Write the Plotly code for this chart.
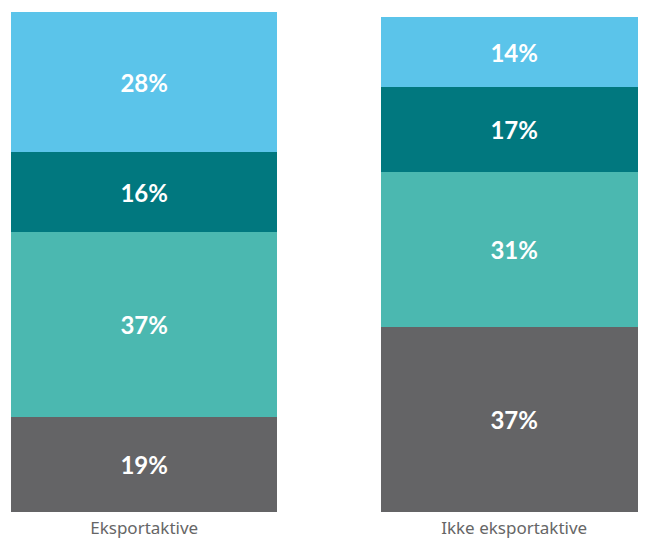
import plotly.graph_objects as go

# Kategorier og andeler (%), fra bunn til topp i stabelen
groups = ["Eksportaktive", "Ikke eksportaktive"]
seg_gray = [19, 37]
seg_teal = [37, 31]
seg_dark = [16, 17]
seg_blue = [28, 14]

COLORS = {
    "gray": "#646466",
    "teal": "#4bb8b0",
    "dark": "#01787f",
    "blue": "#5bc4ea",
    "tick": "#666666",
}

fig = go.Figure()

for name, vals, col in [
    ("gray", seg_gray, COLORS["gray"]),
    ("teal", seg_teal, COLORS["teal"]),
    ("dark", seg_dark, COLORS["dark"]),
    ("blue", seg_blue, COLORS["blue"]),
]:
    fig.add_trace(
        go.Bar(
            x=groups,
            y=vals,
            name=name,
            marker=dict(color=col, line=dict(width=0)),
            width=0.72,
            text=[f"{v}%" for v in vals],
            textposition="inside",
            insidetextanchor="middle",
            textangle=0,
            textfont=dict(family="Lato, Inter, sans-serif", size=24, color="white", weight="bold"),
            hoverinfo="skip",
        )
    )

# siden har 8px marg i body, så figuren gjøres litt mindre (ingen scrolling)
fig.update_layout(
    barmode="stack",
    width=630,
    height=530,
    paper_bgcolor="white",
    plot_bgcolor="white",
    showlegend=False,
    margin=dict(l=3, r=0, t=4, b=26, autoexpand=False),
    uniformtext=dict(minsize=10, mode="show"),
)

fig.update_xaxes(
    range=[-0.36, 1.3346],
    automargin=False,
    showgrid=False,
    zeroline=False,
    showline=False,
    ticks="",
    ticklabelstandoff=4,
    tickfont=dict(family="Noto Sans, sans-serif", size=17, color=COLORS["tick"]),
)
fig.update_yaxes(
    range=[0, 100],
    automargin=False,
    visible=False,
    showgrid=False,
    zeroline=False,
)

fig.write_html("out.html")
